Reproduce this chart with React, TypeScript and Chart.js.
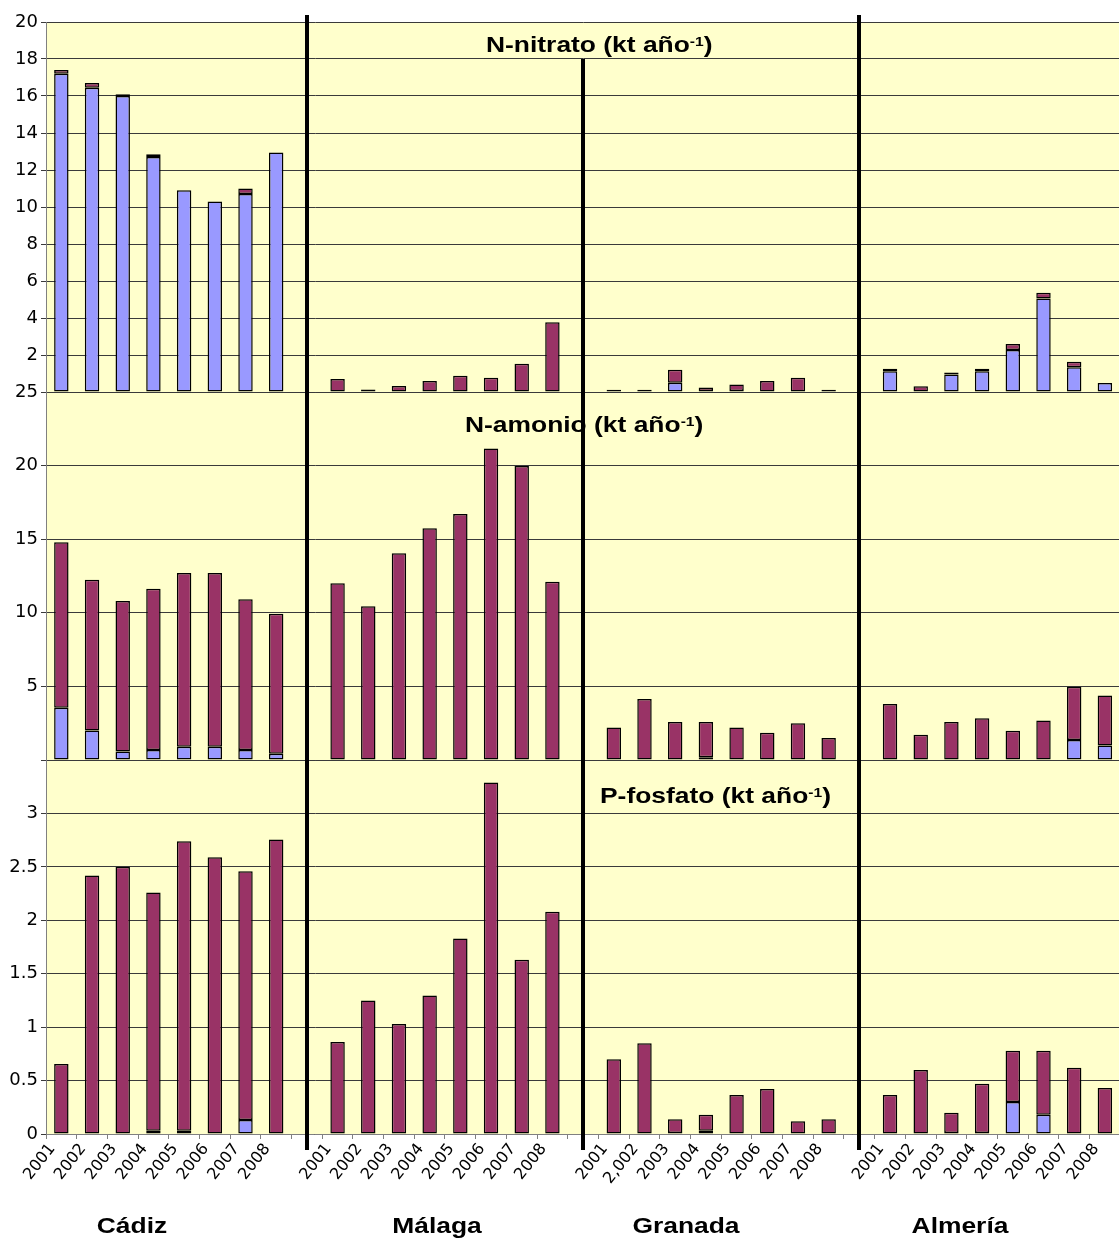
import React, { useEffect, useRef } from 'react';
import { Chart, registerables } from 'chart.js';

Chart.register(...registerables);

// ---- Category labels ----
const provinces = ['Cádiz', 'Málaga', 'Granada', 'Almería'];
const yearsCadiz = ['2001', '2002', '2003', '2004', '2005', '2006', '2007', '2008'];
const yearsMalaga = ['2001', '2002', '2003', '2004', '2005', '2006', '2007', '2008'];
const yearsGranada = ['2001', '2,002', '2003', '2004', '2005', '2006', '2007', '2008'];
const yearsAlmeria = ['2001', '2002', '2003', '2004', '2005', '2006', '2007', '2008'];

// ---- Values (kt año-1), order: Cádiz, Málaga, Granada, Almería (8 years each) ----
const nitratoAzul = [
  17.2, 16.45, 16.0, 12.7, 10.9, 10.3, 10.7, 12.95,
  0, 0, 0, 0, 0, 0, 0, 0,
  0, 0, 0.5, 0.05, 0.05, 0, 0, 0,
  1.12, 0, 0.95, 1.12, 2.27, 5.05, 1.34, 0.49,
];
const nitratoGranate = [
  0.2, 0.25, 0.1, 0.15, 0, 0, 0.3, 0,
  0.7, 0.13, 0.32, 0.6, 0.88, 0.77, 1.53, 3.77,
  0.12, 0.12, 0.7, 0.2, 0.35, 0.6, 0.77, 0.12,
  0.14, 0.31, 0.1, 0.14, 0.33, 0.32, 0.3, 0,
];
const amonioAzul = [
  3.55, 2.0, 0.57, 0.68, 0.9, 0.9, 0.68, 0.43,
  0, 0, 0, 0, 0, 0, 0, 0,
  0, 0, 0, 0.18, 0, 0, 0, 0,
  0, 0, 0, 0, 0, 0, 1.36, 0.99,
];
const amonioGranate = [
  11.24, 10.25, 10.23, 10.96, 11.8, 11.8, 10.24, 9.51,
  12.0, 10.44, 14.04, 15.74, 16.71, 21.17, 19.97, 12.11,
  2.21, 4.14, 2.58, 2.4, 2.21, 1.85, 2.49, 1.49,
  3.8, 1.72, 2.58, 2.83, 1.99, 2.69, 3.62, 3.4,
];
const fosfatoAzul = [
  0, 0, 0, 0.03, 0.03, 0, 0.13, 0,
  0, 0, 0, 0, 0, 0, 0, 0,
  0, 0, 0.01, 0.03, 0, 0, 0, 0,
  0, 0, 0.01, 0.01, 0.3, 0.18, 0, 0,
];
const fosfatoGranate = [
  0.655, 2.42, 2.5, 2.23, 2.71, 2.59, 2.33, 2.755,
  0.86, 1.25, 1.03, 1.295, 1.83, 3.29, 1.63, 2.08,
  0.7, 0.85, 0.127, 0.15, 0.365, 0.42, 0.12, 0.137,
  0.365, 0.6, 0.19, 0.46, 0.48, 0.6, 0.62, 0.43,
];

const panelTitles = ['N-nitrato', 'N-amonio', 'P-fosfato'];

// ---- helpers ----
const yearGroups = [yearsCadiz, yearsMalaga, yearsGranada, yearsAlmeria];
const categories: string[] = [];
const separatorIdx: number[] = [];
yearGroups.forEach((g, i) => {
  g.forEach((y) => categories.push(y));
  if (i < yearGroups.length - 1) {
    separatorIdx.push(categories.length);
    categories.push('');
  }
});
function withGaps(arr: number[]): (number | null)[] {
  const out: (number | null)[] = [];
  for (let p = 0; p < 4; p++) {
    for (let k = 0; k < 8; k++) out.push(arr[p * 8 + k]);
    if (p < 3) out.push(null);
  }
  return out;
}

const BLUE = '#9999FF';
const MAROON = '#993366';
const FONT = 'Arial, "Liberation Sans", sans-serif';
const TICKFONT = '"DejaVu Sans", Arial, sans-serif';

const bgAndSeparators = {
  id: 'bgAndSeparators',
  beforeDraw(chart: any) {
    const { ctx, chartArea } = chart;
    ctx.save();
    ctx.fillStyle = '#FFFFCC';
    ctx.fillRect(chartArea.left, chartArea.top, chartArea.right - chartArea.left, chartArea.bottom - chartArea.top);
    ctx.restore();
  },
  afterDatasetsDraw(chart: any) {
    const { ctx, chartArea } = chart;
    const xs = chart.scales.x;
    ctx.save();
    ctx.strokeStyle = '#000';
    ctx.lineWidth = 4;
    separatorIdx.forEach((idx, i) => {
      const x = Math.round(xs.getPixelForValue(idx));
      const top = i === 1 ? chartArea.top + 37 : chartArea.top - 7;
      ctx.beginPath();
      ctx.moveTo(x, top);
      ctx.lineTo(x, chartArea.bottom + 16);
      ctx.stroke();
    });
    ctx.restore();
  },
};

function yAxis(max: number, step: number, weight: number, stackWeight: number, hide: number) {
  return {
    type: 'linear',
    position: 'left',
    stack: 'panels',
    stackWeight,
    weight,
    stacked: true,
    min: 0,
    max,
    ticks: {
      stepSize: step,
      autoSkip: false,
      color: '#000',
      padding: 3,
      font: { family: TICKFONT, size: 18 },
      callback: (v: number) => (Math.abs(v - hide) < 1e-9 ? '' : String(v)),
    },
    grid: { color: '#3a3a3a', lineWidth: 1, tickLength: 5 },
    border: { color: '#808080' },
    afterFit: (a: any) => {
      a.width = 46;
    },
  };
}

function barDs(label: string, data: number[], color: string, yAxisID: string) {
  return {
    label,
    data: withGaps(data),
    backgroundColor: color,
    borderColor: '#000',
    borderWidth: 1.5,
    borderSkipped: false,
    yAxisID,
    barPercentage: 0.47,
    categoryPercentage: 1,
  };
}

const wideText: React.CSSProperties = {
  position: 'absolute',
  fontFamily: FONT,
  fontWeight: 'bold',
  whiteSpace: 'nowrap',
  color: '#000',
};

function Title({ text, left, top }: { text: string; left: number; top: number }) {
  return (
    <div
      style={{
        ...wideText,
        left,
        top,
        fontSize: 22,
        lineHeight: '22px',
        transform: 'scaleX(1.2)',
        transformOrigin: '0 0',
      }}
    >
      {text} (kt año<sup style={{ fontSize: 13, verticalAlign: 'top', position: 'relative', top: -3 }}>-1</sup>)
    </div>
  );
}

export default function App() {
  const ref = useRef<HTMLCanvasElement | null>(null);
  useEffect(() => {
    if (!ref.current) return;
    const chart = new Chart(ref.current, {
      type: 'bar',
      data: {
        labels: categories,
        datasets: [
          barDs('N-nitrato A', nitratoAzul, BLUE, 'yN'),
          barDs('N-nitrato B', nitratoGranate, MAROON, 'yN'),
          barDs('N-amonio A', amonioAzul, BLUE, 'yA'),
          barDs('N-amonio B', amonioGranate, MAROON, 'yA'),
          barDs('P-fosfato A', fosfatoAzul, BLUE, 'yP'),
          barDs('P-fosfato B', fosfatoGranate, MAROON, 'yP'),
        ] as any,
      },
      options: {
        animation: false,
        responsive: false,
        devicePixelRatio: 1,
        layout: { padding: { top: 22, right: 0, left: 0, bottom: 0 } },
        plugins: { legend: { display: false }, tooltip: { enabled: false } },
        scales: {
          x: {
            stacked: true,
            grid: { drawOnChartArea: false, offset: true, tickLength: 5, color: '#808080' },
            border: { color: '#808080' },
            ticks: {
              autoSkip: false,
              minRotation: 52,
              maxRotation: 52,
              labelOffset: -9,
              padding: 1,
              color: '#000',
              font: { family: TICKFONT, size: 16 },
            },
            afterFit: (a: any) => {
              a.height = 108;
            },
          },
          yN: yAxis(20, 2, 3, 370, 0),
          yA: yAxis(25, 5, 2, 368, 0),
          yP: yAxis(3.5, 0.5, 1, 374, 3.5),
        } as any,
      },
      plugins: [bgAndSeparators],
    });
    return () => chart.destroy();
  }, []);

  const provinceX = [132, 437, 686, 960];
  return (
    <div
      style={{
        position: 'absolute',
        left: 0,
        top: 0,
        width: 1119,
        height: 1242,
        overflow: 'hidden',
        background: '#fff',
      }}
    >
      <canvas ref={ref} width={1121} height={1242} style={{ position: 'absolute', left: 0, top: 0 }} />
      <Title text={panelTitles[0]} left={486} top={34} />
      <Title text={panelTitles[1]} left={465} top={414} />
      <Title text={panelTitles[2]} left={600} top={785} />
      {provinces.map((p, i) => (
        <div
          key={p}
          style={{
            ...wideText,
            left: provinceX[i],
            top: 1215,
            fontSize: 22,
            lineHeight: '22px',
            transform: 'translateX(-50%) scaleX(1.2)',
          }}
        >
          {p}
        </div>
      ))}
    </div>
  );
}
